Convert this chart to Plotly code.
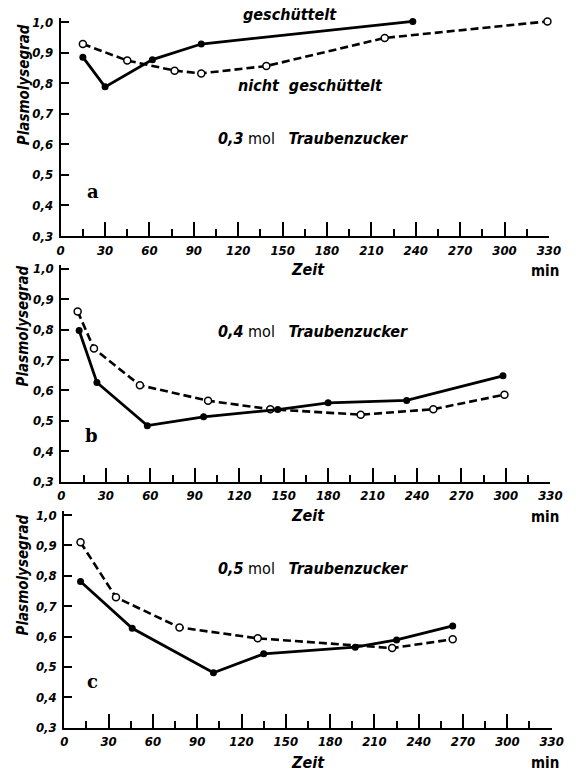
import plotly.graph_objects as go

# ---- data ----
a_shaken_t = [15, 30, 62, 95, 238]
a_shaken_v = [0.885, 0.788, 0.877, 0.928, 1.002]
a_still_t = [15, 45, 77, 95, 139, 219, 329]
a_still_v = [0.928, 0.874, 0.841, 0.832, 0.856, 0.948, 1.002]

b_shaken_t = [12, 24, 58, 96, 146, 180, 233, 298]
b_shaken_v = [0.797, 0.626, 0.484, 0.513, 0.537, 0.559, 0.567, 0.648]
b_still_t = [11, 22, 53, 99, 141, 202, 251, 299]
b_still_v = [0.860, 0.738, 0.617, 0.566, 0.538, 0.520, 0.538, 0.586]

c_shaken_t = [11, 46, 101, 135, 197, 225, 263]
c_shaken_v = [0.781, 0.627, 0.481, 0.543, 0.565, 0.589, 0.635]
c_still_t = [11, 35, 78, 131, 222, 263]
c_still_v = [0.910, 0.729, 0.630, 0.594, 0.562, 0.591]

x_ticks = list(range(0, 331, 30))
x_ticklabels = [str(v) for v in x_ticks]
y_ticks = [0.3, 0.4, 0.5, 0.6, 0.7, 0.8, 0.9, 1.0]
y_ticklabels = ["0,3", "0,4", "0,5", "0,6", "0,7", "0,8", "0,9", "1,0"]

concentrations = ["0,3", "0,4", "0,5"]
panel_letters = ["a", "b", "c"]

W, H = 576, 779
FONT = "DejaVu Sans Condensed, Liberation Sans Narrow, DejaVu Sans, sans-serif"
Y_TOP = 1.012  # small headroom above 1,0 so the end markers are not cut

# panel pixel boxes for the value range 0.3 .. 1.0: (left x of 0, x of 330, y of 1.0, y of 0.3)
boxes = [(58.3, 560.5, 18.3, 235.7), (59.0, 562.0, 269.0, 485.0), (62.0, 563.3, 519.0, 735.0)]

fig = go.Figure()

series = [
    (a_shaken_t, a_shaken_v, a_still_t, a_still_v),
    (b_shaken_t, b_shaken_v, b_still_t, b_still_v),
    (c_shaken_t, c_shaken_v, c_still_t, c_still_v),
]


def px_x(p):
    return p / W


def px_y(p):
    return 1 - p / H


for i, (st, sv, nt, nv) in enumerate(series):
    n = "" if i == 0 else str(i + 1)
    xa, ya = "x" + n, "y" + n
    fig.add_trace(go.Scatter(x=nt, y=nv, mode="lines+markers", xaxis=xa, yaxis=ya,
                             line=dict(color="black", width=2.6, dash="8px,4px"),
                             marker=dict(symbol="circle", size=7, color="white",
                                         line=dict(color="black", width=1.5)),
                             showlegend=False, cliponaxis=False))
    fig.add_trace(go.Scatter(x=st, y=sv, mode="lines+markers", xaxis=xa, yaxis=ya,
                             line=dict(color="black", width=2.8),
                             marker=dict(symbol="circle", size=7, color="black"),
                             showlegend=False, cliponaxis=False))
    l, r, t, b = boxes[i]
    per_unit = (b - t) / 0.7
    top_px = t - (Y_TOP - 1.0) * per_unit
    xaxis = dict(domain=[px_x(l), px_x(r)], range=[0, 330], anchor=ya,
                 showline=True, linecolor="black", linewidth=2, showgrid=False, zeroline=False,
                 tickmode="array", tickvals=x_ticks, ticktext=x_ticklabels,
                 ticks="inside", ticklen=14, tickwidth=1.5, tickcolor="black",
                 tickfont=dict(family=FONT, size=13, color="black", weight="bold", style="italic"),
                 ticklabelstandoff=1,
                 minor=dict(tickvals=list(range(15, 331, 30)), ticks="inside", ticklen=7,
                            tickwidth=1.5, tickcolor="black"))
    yaxis = dict(domain=[px_y(b), px_y(top_px)], range=[0.3, Y_TOP], anchor=xa,
                 showline=True, linecolor="black", linewidth=2, showgrid=False, zeroline=False,
                 tickmode="array", tickvals=y_ticks, ticktext=y_ticklabels,
                 ticks="inside", ticklen=8, tickwidth=1.5, tickcolor="black",
                 tickfont=dict(family=FONT, size=13, color="black", weight="bold", style="italic"),
                 ticklabelstandoff=3)
    fig.layout["xaxis" + n] = xaxis
    fig.layout["yaxis" + n] = yaxis

ann = []


def text(x, y, s, size=15, family=FONT, weight="bold", style="italic", angle=0):
    ann.append(dict(x=px_x(x), y=px_y(y), xref="paper", yref="paper", text=s,
                    showarrow=False, xanchor="center", yanchor="middle", textangle=angle,
                    font=dict(family=family, size=size, color="black", weight=weight, style=style)))


# panel a curve labels
text(294, 11, "geschüttelt", size=16)
text(315, 83, "nicht  geschüttelt", size=16)

title_y = [82, 327, 580]
conc_y = [137, 333, 573]
letter_pos = [(92, 190), (90, 438), (91, 688)]
zeit_y = [270, 520, 770]

for i in range(3):
    text(20, title_y[i], "Plasmolysegrad", size=15, angle=-90)
    ann.append(dict(x=px_x(318), y=px_y(conc_y[i]), xref="paper", yref="paper",
                    text="<i><b>" + concentrations[i] + "</b></i> mol   <i><b>Traubenzucker</b></i>",
                    showarrow=False, xanchor="center", yanchor="middle",
                    font=dict(family=FONT, size=16, color="black")))
    lx, ly = letter_pos[i]
    text(lx, ly, panel_letters[i], size=18, family="DejaVu Serif, Liberation Serif, serif",
         weight="bold", style="normal")
    text(313, zeit_y[i], "Zeit", size=16)
    text(556, zeit_y[i] + 1, "min", size=15, style="normal")

fig.update_layout(width=W, height=H, margin=dict(l=0, r=0, t=0, b=0),
                  paper_bgcolor="white", plot_bgcolor="white", annotations=ann)

fig.write_html("out.html")
